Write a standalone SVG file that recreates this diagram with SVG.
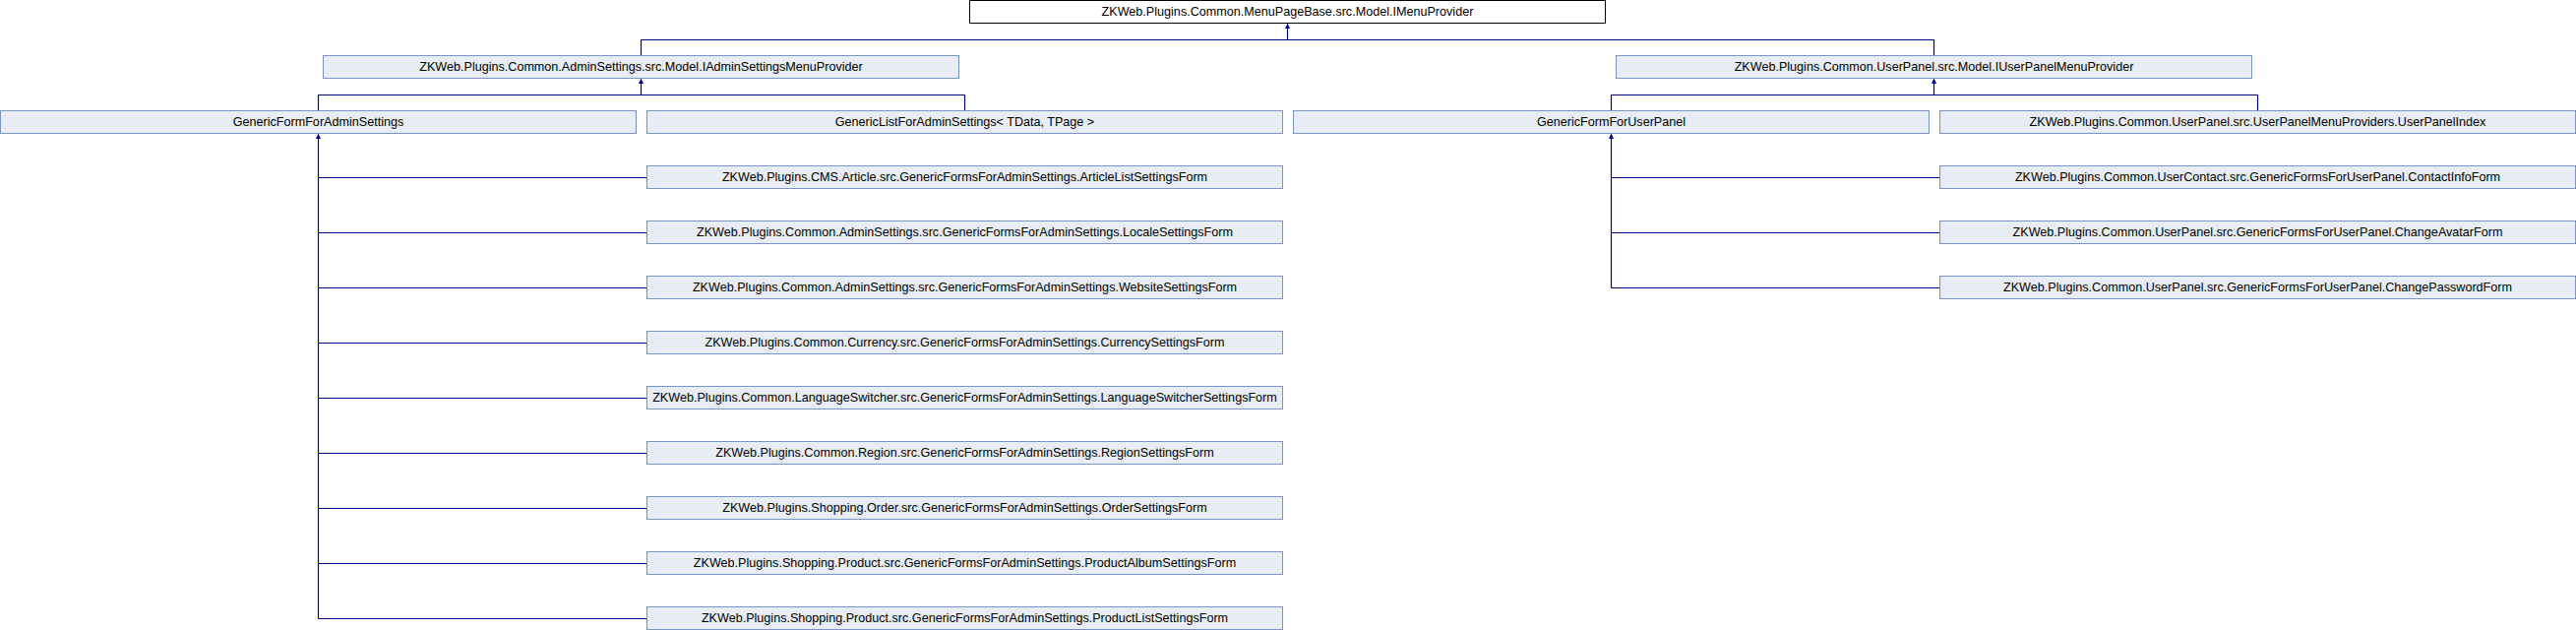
<svg xmlns="http://www.w3.org/2000/svg" width="2618" height="640" viewBox="0 0 2618 640">
<style>
.n rect{fill:#E8ECF4;stroke:#7B93CC;stroke-width:1}
.root rect{fill:#FFFFFF;stroke:#000000;stroke-width:1}
text{font-family:"Liberation Sans",Arial,sans-serif;font-size:12.6px;fill:#000000;text-anchor:middle}
#connectors path{fill:none;stroke:#000090;stroke-width:1.2}
#connectors polygon{fill:#000090;stroke:none}
</style>
<rect x="0" y="0" width="2618" height="640" fill="#FFFFFF"/>
<g id="connectors">
  <path d="M651.5,56.5 V40.5 H1965.5 V56.5 M1308.5,40.5 V28"/>
  <polygon points="1308.5,23.5 1306,29 1311,29"/>
  <path d="M323.5,112.5 V96.5 H980.5 V112.5 M651.5,96.5 V84"/>
  <polygon points="651.5,79.5 649,85 654,85"/>
  <path d="M1637.5,112.5 V96.5 H2294.5 V112.5 M1965.5,96.5 V84"/>
  <polygon points="1965.5,79.5 1963,85 1968,85"/>
  <path d="M323.5,140 V628.5 M323.5,180.5 H657.5 M323.5,236.5 H657.5 M323.5,292.5 H657.5 M323.5,348.5 H657.5 M323.5,404.5 H657.5 M323.5,460.5 H657.5 M323.5,516.5 H657.5 M323.5,572.5 H657.5 M323.5,628.5 H657.5"/>
  <polygon points="323.5,135.5 321,141 326,141"/>
  <path d="M1637.5,140 V292.5 M1637.5,180.5 H1971.5 M1637.5,236.5 H1971.5 M1637.5,292.5 H1971.5"/>
  <polygon points="1637.5,135.5 1635,141 1640,141"/>
</g>
<g id="IMenuProvider" class="root"><rect x="985.5" y="0.5" width="646" height="23"/><text x="1308.5" y="16">ZKWeb.Plugins.Common.MenuPageBase.src.Model.IMenuProvider</text></g>
<g id="IAdminSettingsMenuProvider" class="n"><rect x="328.5" y="56.5" width="646" height="23"/><text x="651.5" y="72">ZKWeb.Plugins.Common.AdminSettings.src.Model.IAdminSettingsMenuProvider</text></g>
<g id="IUserPanelMenuProvider" class="n"><rect x="1642.5" y="56.5" width="646" height="23"/><text x="1965.5" y="72">ZKWeb.Plugins.Common.UserPanel.src.Model.IUserPanelMenuProvider</text></g>
<g id="GenericFormForAdminSettings" class="n"><rect x="0.5" y="112.5" width="646" height="23"/><text x="323.5" y="128">GenericFormForAdminSettings</text></g>
<g id="GenericListForAdminSettings" class="n"><rect x="657.5" y="112.5" width="646" height="23"/><text x="980.5" y="128">GenericListForAdminSettings&lt; TData, TPage &gt;</text></g>
<g id="GenericFormForUserPanel" class="n"><rect x="1314.5" y="112.5" width="646" height="23"/><text x="1637.5" y="128">GenericFormForUserPanel</text></g>
<g id="UserPanelIndex" class="n"><rect x="1971.5" y="112.5" width="646" height="23"/><text x="2294.5" y="128">ZKWeb.Plugins.Common.UserPanel.src.UserPanelMenuProviders.UserPanelIndex</text></g>
<g id="ArticleListSettingsForm" class="n"><rect x="657.5" y="168.5" width="646" height="23"/><text x="980.5" y="184">ZKWeb.Plugins.CMS.Article.src.GenericFormsForAdminSettings.ArticleListSettingsForm</text></g>
<g id="LocaleSettingsForm" class="n"><rect x="657.5" y="224.5" width="646" height="23"/><text x="980.5" y="240">ZKWeb.Plugins.Common.AdminSettings.src.GenericFormsForAdminSettings.LocaleSettingsForm</text></g>
<g id="WebsiteSettingsForm" class="n"><rect x="657.5" y="280.5" width="646" height="23"/><text x="980.5" y="296">ZKWeb.Plugins.Common.AdminSettings.src.GenericFormsForAdminSettings.WebsiteSettingsForm</text></g>
<g id="CurrencySettingsForm" class="n"><rect x="657.5" y="336.5" width="646" height="23"/><text x="980.5" y="352">ZKWeb.Plugins.Common.Currency.src.GenericFormsForAdminSettings.CurrencySettingsForm</text></g>
<g id="LanguageSwitcherSettingsForm" class="n"><rect x="657.5" y="392.5" width="646" height="23"/><text x="980.5" y="408">ZKWeb.Plugins.Common.LanguageSwitcher.src.GenericFormsForAdminSettings.LanguageSwitcherSettingsForm</text></g>
<g id="RegionSettingsForm" class="n"><rect x="657.5" y="448.5" width="646" height="23"/><text x="980.5" y="464">ZKWeb.Plugins.Common.Region.src.GenericFormsForAdminSettings.RegionSettingsForm</text></g>
<g id="OrderSettingsForm" class="n"><rect x="657.5" y="504.5" width="646" height="23"/><text x="980.5" y="520">ZKWeb.Plugins.Shopping.Order.src.GenericFormsForAdminSettings.OrderSettingsForm</text></g>
<g id="ProductAlbumSettingsForm" class="n"><rect x="657.5" y="560.5" width="646" height="23"/><text x="980.5" y="576">ZKWeb.Plugins.Shopping.Product.src.GenericFormsForAdminSettings.ProductAlbumSettingsForm</text></g>
<g id="ProductListSettingsForm" class="n"><rect x="657.5" y="616.5" width="646" height="23"/><text x="980.5" y="632">ZKWeb.Plugins.Shopping.Product.src.GenericFormsForAdminSettings.ProductListSettingsForm</text></g>
<g id="ContactInfoForm" class="n"><rect x="1971.5" y="168.5" width="646" height="23"/><text x="2294.5" y="184">ZKWeb.Plugins.Common.UserContact.src.GenericFormsForUserPanel.ContactInfoForm</text></g>
<g id="ChangeAvatarForm" class="n"><rect x="1971.5" y="224.5" width="646" height="23"/><text x="2294.5" y="240">ZKWeb.Plugins.Common.UserPanel.src.GenericFormsForUserPanel.ChangeAvatarForm</text></g>
<g id="ChangePasswordForm" class="n"><rect x="1971.5" y="280.5" width="646" height="23"/><text x="2294.5" y="296">ZKWeb.Plugins.Common.UserPanel.src.GenericFormsForUserPanel.ChangePasswordForm</text></g>
</svg>
